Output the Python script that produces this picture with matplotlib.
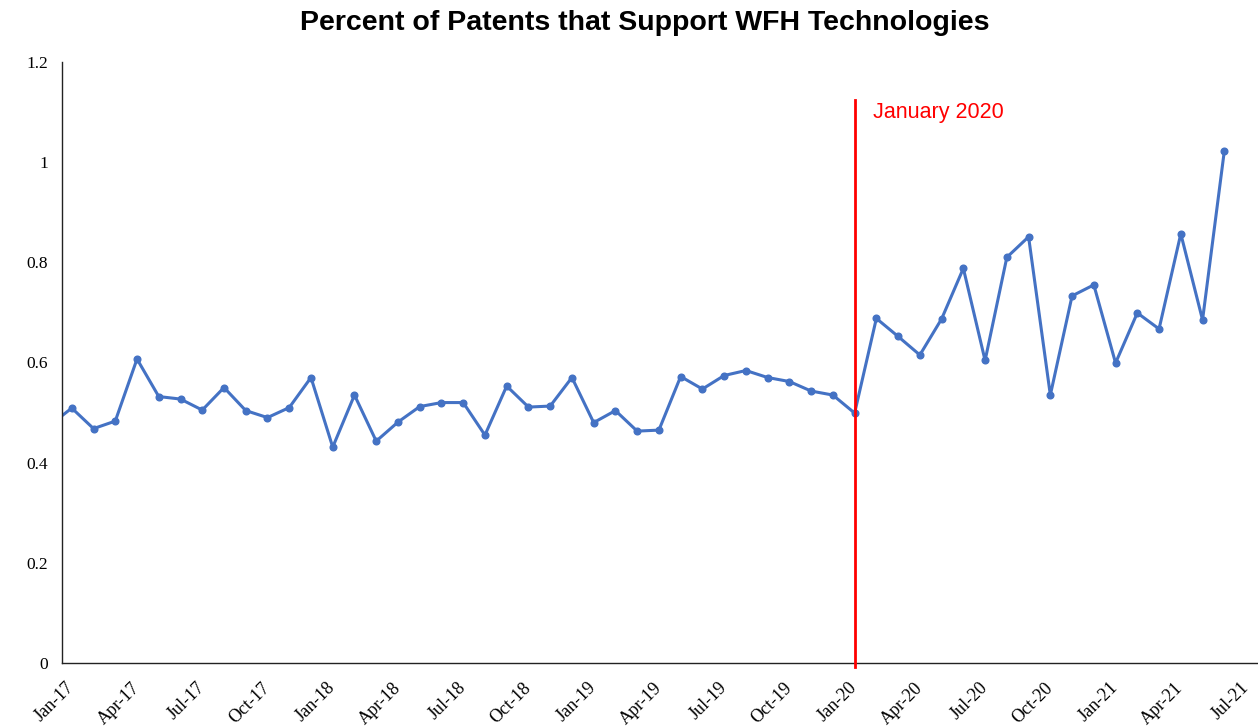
import matplotlib
matplotlib.use('Agg')
import matplotlib.pyplot as plt

# Monthly share of patents supporting WFH technologies (%), Dec-16 .. Jun-21
months = ['Dec-16',
          'Jan-17', 'Feb-17', 'Mar-17', 'Apr-17', 'May-17', 'Jun-17',
          'Jul-17', 'Aug-17', 'Sep-17', 'Oct-17', 'Nov-17', 'Dec-17',
          'Jan-18', 'Feb-18', 'Mar-18', 'Apr-18', 'May-18', 'Jun-18',
          'Jul-18', 'Aug-18', 'Sep-18', 'Oct-18', 'Nov-18', 'Dec-18',
          'Jan-19', 'Feb-19', 'Mar-19', 'Apr-19', 'May-19', 'Jun-19',
          'Jul-19', 'Aug-19', 'Sep-19', 'Oct-19', 'Nov-19', 'Dec-19',
          'Jan-20', 'Feb-20', 'Mar-20', 'Apr-20', 'May-20', 'Jun-20',
          'Jul-20', 'Aug-20', 'Sep-20', 'Oct-20', 'Nov-20', 'Dec-20',
          'Jan-21', 'Feb-21', 'Mar-21', 'Apr-21', 'May-21', 'Jun-21']
share = [0.475,
         0.509, 0.468, 0.483, 0.607, 0.532, 0.527,
         0.505, 0.550, 0.504, 0.490, 0.510, 0.570,
         0.431, 0.535, 0.443, 0.481, 0.512, 0.520,
         0.520, 0.455, 0.553, 0.511, 0.513, 0.570,
         0.480, 0.504, 0.463, 0.465, 0.572, 0.547,
         0.574, 0.584, 0.570, 0.562, 0.543, 0.535,
         0.499, 0.688, 0.652, 0.615, 0.687, 0.788,
         0.604, 0.810, 0.851, 0.535, 0.733, 0.755,
         0.599, 0.699, 0.667, 0.857, 0.685, 1.022]

tick_labels = ['Jan-17', 'Apr-17', 'Jul-17', 'Oct-17', 'Jan-18', 'Apr-18',
               'Jul-18', 'Oct-18', 'Jan-19', 'Apr-19', 'Jul-19', 'Oct-19',
               'Jan-20', 'Apr-20', 'Jul-20', 'Oct-20', 'Jan-21', 'Apr-21',
               'Jul-21']
event_month = 'Jan-20'
event_label = 'January 2020'

# x position = months since Jan-17
x = list(range(-1, len(share) - 1))
tick_pos = [3 * i for i in range(len(tick_labels))]
event_x = months.index(event_month) - 1

fig = plt.figure(figsize=(12.58, 7.28), dpi=100)
ax = fig.add_axes([62 / 1258, 65 / 728, (1258 - 62) / 1258, (663 - 62) / 728])

ax.plot(x, share, color='#4472C4', lw=2.2, marker='o', ms=4.8)
ax.plot([event_x, event_x], [-0.008, 1.124], color='#FF0000', lw=2.0,
        clip_on=False, zorder=3)
ax.text(event_x + 0.84, 1.10, event_label, color='#FF0000', fontsize=15.5,
        family='Liberation Sans', va='center', ha='left')

ax.set_xlim(-0.45, 54.55)
ax.set_ylim(0, 1.2)
ax.set_yticks([0, 0.2, 0.4, 0.6, 0.8, 1.0, 1.2])
ax.set_yticklabels(['0', '0.2', '0.4', '0.6', '0.8', '1', '1.2'],
                   family='Liberation Serif', fontsize=12.5)
ax.set_xticks(tick_pos)
ax.set_xticklabels(tick_labels, rotation=45, ha='right', va='center',
                   rotation_mode='anchor',
                   family='Liberation Serif', fontsize=13)
ax.tick_params(axis='y', length=0, pad=10)
ax.tick_params(axis='x', length=0, pad=16)

for side in ['top', 'right']:
    ax.spines[side].set_visible(False)
for side in ['left', 'bottom']:
    ax.spines[side].set_color('#222222')
    ax.spines[side].set_linewidth(1.0)

fig.suptitle('Percent of Patents that Support WFH Technologies',
             x=645 / 1258, y=1 - 23 / 728, va='center', fontsize=20.5,
             fontweight='bold',
             family=['Liberation Sans Narrow', 'DejaVu Sans Condensed',
                     'Liberation Sans'])

fig.savefig('out.png', dpi=100)
